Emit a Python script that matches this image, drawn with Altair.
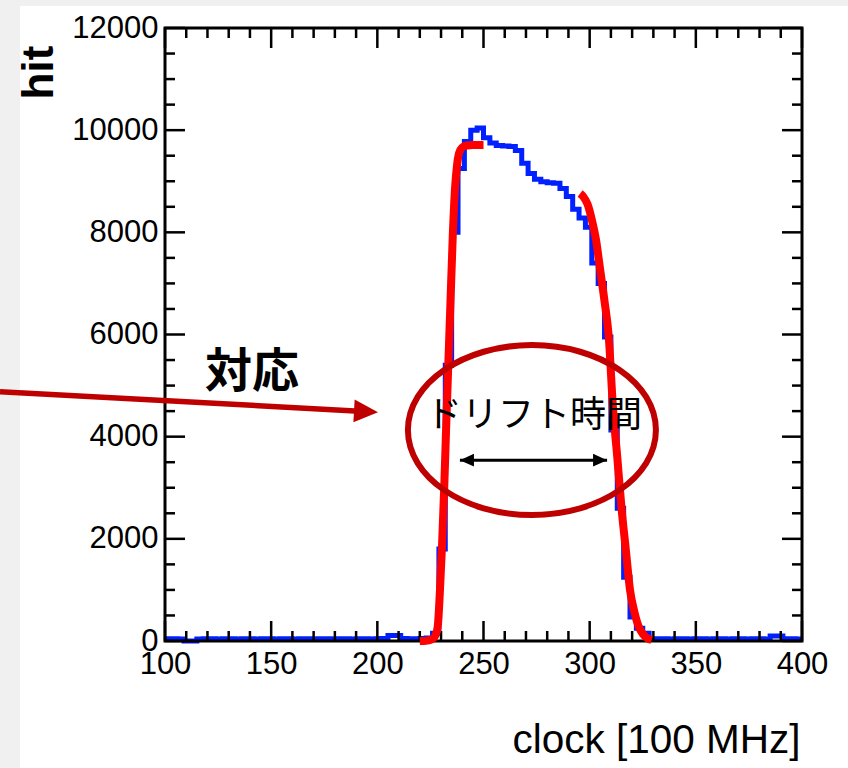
import altair as alt
import pandas as pd

# ---------------- data ----------------
# histogram: bin edges (width 3 clocks) and counts per bin
bin_edges = list(range(100, 401, 3))
hits = [
    45, 45, 40, 0, 0, 40, 45, 45, 40, 45,
    45, 40, 45, 45, 40, 45, 45, 40, 45, 45,
    40, 45, 45, 40, 45, 45, 40, 45, 45, 40,
    45, 45, 40, 45, 50, 110, 110, 50, 45, 45,
    50, 60, 150, 1800, 5400, 8000, 9250, 9780, 10000, 10040,
    9850, 9750, 9700, 9690, 9680, 9600, 9350, 9150, 9040, 8990,
    8970, 8960, 8860, 8700, 8450, 8280, 8100, 7400, 7000, 5950,
    4130, 2600, 1250, 470, 250, 150, 40, 45, 45, 40,
    45, 45, 40, 45, 45, 40, 45, 45, 40, 45,
    45, 40, 45, 45, 40, 100, 100, 45, 45, 40,
]

# red fit curves (rising and falling edge)
fit_left_clock = [220, 223, 226, 227.5, 228.5, 229.5, 230.5, 231.5, 232.5, 233.5,
                  234.5, 235.5, 236.5, 237.5, 238.5, 240, 242, 245, 250]
fit_left_hit = [0, 5, 40, 120, 300, 1000, 1900, 3000, 4300, 5500,
                6700, 7900, 8800, 9300, 9550, 9660, 9700, 9710, 9710]
fit_right_clock = [295.5, 297, 299, 301, 303, 305, 307, 309, 311, 313,
                   315, 317, 319, 321, 323, 325, 327, 329.2]
fit_right_hit = [8760, 8700, 8550, 8250, 7850, 7250, 6650, 5950, 4550, 3600,
                 2600, 1800, 1000, 580, 290, 140, 60, 20]

# axis ticks
x_major = [100, 150, 200, 250, 300, 350, 400]
x_minor = [110, 120, 130, 140, 160, 170, 180, 190, 210, 220, 230, 240,
           260, 270, 280, 290, 310, 320, 330, 340, 360, 370, 380, 390]
y_major = [0, 2000, 4000, 6000, 8000, 10000, 12000]
y_minor = [500, 1000, 1500, 2500, 3000, 3500, 4500, 5000, 5500, 6500, 7000, 7500,
           8500, 9000, 9500, 10500, 11000, 11500]

# annotations (in data coordinates)
ellipse_clock = [272.8]
ellipse_hit = [4130]
drift_label = ["ドリフト時間"]
drift_label_clock = [273.8]
drift_label_hit = [4400]
arrow_from_clock = [238.9]
arrow_to_clock = [308.2]
arrow_hit = [3540]
corr_label = ["対応"]
corr_label_clock = [141]
corr_label_hit = [5250]

# ---------------- styles ----------------
W, H = 637, 613
BLUE = "#0020ff"
RED = "#ff0000"
DARKRED = "#bf0000"
FONT = "Liberation Sans"
CJK = "Noto Sans CJK JP"

ELLIPSE = ("M 1 0 C 1 0.379 0.552 0.685 0 0.685 C -0.552 0.685 -1 0.379 -1 0 "
           "C -1 -0.379 -0.552 -0.685 0 -0.685 C 0.552 -0.685 1 -0.379 1 0 Z")
HEAD_R = "M 1 0 L -1 -0.9 L -1 0.9 Z"
HEAD_L = "M -1 0 L 1 -0.9 L 1 0.9 Z"
RED_HEAD = "M 1 0 L -1 -0.95 L -1 0.95 Z"

x_axis = alt.Axis(values=x_major, format="d", ticks=False, tickSize=0, domain=False, grid=False, zindex=2,
                  labelFont=FONT, labelFontSize=31, labelColor="black", labelPadding=8,
                  labelFlush=False, labelOverlap=False,
                  title="clock [100 MHz]", titleFont=FONT, titleFontSize=40.5,
                  titleFontWeight="normal", titleColor="black", titleAnchor="end",
                  titleAlign="right", titleBaseline="alphabetic", titleX=635, titleY=111)
y_axis = alt.Axis(values=y_major, format="d", ticks=False, tickSize=0, domain=False, grid=False, zindex=2,
                  labelFont=FONT, labelFontSize=31, labelColor="black", labelPadding=7,
                  labelFlush=False, labelOverlap=False,
                  title="hit", titleFont=FONT, titleFontSize=44, titleFontWeight="bold",
                  titleColor="black", titleAngle=270, titleAlign="center",
                  titleBaseline="alphabetic", titleX=-113, titleY=44)

X = alt.X("clock:Q", scale=alt.Scale(domain=[100, 400], nice=False, zero=False), axis=x_axis)
Y = alt.Y("hit:Q", scale=alt.Scale(domain=[0, 12000], nice=False), axis=y_axis)

one = pd.DataFrame({"a": [0]})

df_hist = pd.DataFrame({"clock": bin_edges, "hit": hits + [hits[-1]]})
df_fit = pd.concat([
    pd.DataFrame({"clock": fit_left_clock, "hit": fit_left_hit, "part": "left"}),
    pd.DataFrame({"clock": fit_right_clock, "hit": fit_right_hit, "part": "right"}),
])

# white page (left/top strips stay grey)
page = alt.Chart(one).mark_rect(color="white").encode(
    x=alt.value(-145), x2=alt.value(683), y=alt.value(-22), y2=alt.value(740))

hist = alt.Chart(df_hist).mark_line(interpolate="step-after", color=BLUE, strokeWidth=5).encode(x=X, y=Y)

def xticks(vals, y0, y1):
    return alt.Chart(pd.DataFrame({"clock": vals})).mark_rule(color="black", strokeWidth=2.5).encode(
        x=X, y=alt.value(y0), y2=alt.value(y1))

def yticks(vals, x0, x1):
    return alt.Chart(pd.DataFrame({"hit": vals})).mark_rule(color="black", strokeWidth=2.5).encode(
        y=Y, x=alt.value(x0), x2=alt.value(x1))

ticks = [
    xticks(x_major, H - 20, H), xticks(x_major, 0, 20),
    xticks(x_minor, H - 10, H), xticks(x_minor, 0, 10),
    yticks(y_major, 0, 20), yticks(y_major, W - 20, W),
    yticks(y_minor, 0, 10), yticks(y_minor, W - 10, W),
]

frame = alt.Chart(one).mark_rect(fillOpacity=0, stroke="black", strokeWidth=3).encode(
    x=alt.value(0), x2=alt.value(W), y=alt.value(0), y2=alt.value(H))

fit = alt.Chart(df_fit).mark_line(interpolate="monotone", color=RED, strokeWidth=8).encode(
    x=X, y=Y, detail="part:N")

ellipse = alt.Chart(pd.DataFrame({"clock": ellipse_clock, "hit": ellipse_hit})).mark_point(
    shape=ELLIPSE, size=61504, filled=False, stroke=DARKRED, strokeWidth=6, opacity=1).encode(x=X, y=Y)

drift = alt.Chart(pd.DataFrame({"clock": drift_label_clock, "hit": drift_label_hit, "t": drift_label})).mark_text(
    font=CJK, fontSize=36, color="black", align="center", baseline="middle").encode(x=X, y=Y, text="t:N")

df_arrow = pd.DataFrame({"clock": arrow_from_clock, "clock2": arrow_to_clock, "hit": arrow_hit})
arrow_line = alt.Chart(df_arrow).mark_rule(color="black", strokeWidth=3).encode(x=X, x2="clock2:Q", y=Y)
head_l = alt.Chart(pd.DataFrame({"clock": arrow_from_clock, "hit": arrow_hit})).mark_point(
    shape=HEAD_L, size=196, filled=True, color="black", opacity=1, xOffset=7).encode(x=X, y=Y)
head_r = alt.Chart(pd.DataFrame({"clock": arrow_to_clock, "hit": arrow_hit})).mark_point(
    shape=HEAD_R, size=196, filled=True, color="black", opacity=1, xOffset=-7).encode(x=X, y=Y)

corr = alt.Chart(pd.DataFrame({"clock": corr_label_clock, "hit": corr_label_hit, "t": corr_label})).mark_text(
    font=CJK, fontSize=47, fontWeight="bold", color="black", align="center", baseline="middle").encode(
    x=X, y=Y, text="t:N")

red_arrow = alt.Chart(one).mark_rule(color=DARKRED, strokeWidth=5.5).encode(
    x=alt.value(-165), y=alt.value(363.7), x2=alt.value(190), y2=alt.value(383.0))
red_head = alt.Chart(one).mark_point(shape=RED_HEAD, size=576, filled=True, color=DARKRED,
                                     opacity=1, angle=3.1).encode(x=alt.value(201), y=alt.value(383.6))

chart = alt.layer(
    page, hist, *ticks, frame, fit, ellipse, drift, arrow_line, head_l, head_r, corr, red_arrow, red_head
).properties(
    width=W, height=H,
    autosize=alt.AutoSizeParams(type="none"),
    padding={"left": 165, "top": 28, "right": 46, "bottom": 127},
    background="#f0f0f0",
).configure_view(stroke=None)

chart.save("out.html", embed_options={"renderer": "svg", "actions": False})
